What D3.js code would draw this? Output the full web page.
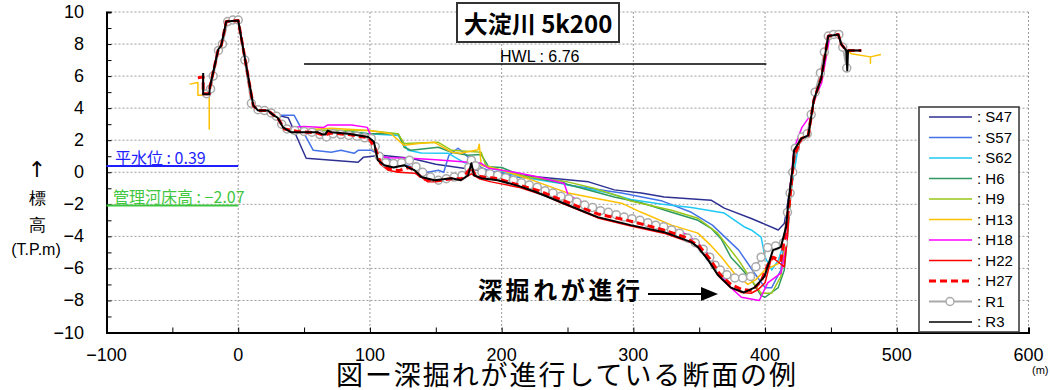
<!DOCTYPE html>
<html>
<head>
<meta charset="utf-8">
<script src="https://cdn.jsdelivr.net/npm/d3@7"></script>
<style>
  body { margin: 0; background: #fff; }
  svg { display: block; }
  text { font-family: "Liberation Sans Narrow", "Liberation Sans", Arial, sans-serif; }
  .jp { font-family: "Noto Sans CJK JP", "Noto Sans", sans-serif; }
</style>
</head>
<body>
<div id="chart"></div>
<script>
// axis ticks
const xTicks = [-100, 0, 100, 200, 300, 400, 500, 600];
const yTicks = [-10, -8, -6, -4, -2, 0, 2, 4, 6, 8, 10];

// reference levels
const hwl = 6.76, hwlFrom = 50, hwlTo = 401;
const lwl = 0.39, bedLevel = -2.07;

// shared bank geometry (distance m, elevation T.P.m)
const leftBank = [[-26.6,4.9],[-22,4.9],[-21.5,5.3],[-15.2,7.66],[-12.9,7.9],[-9.1,9.4],[0,9.47],[11.4,4.17],[15,3.86],[22.5,3.86],[27,3.55]];
const rightBank = [[427.5,2.1],[432.8,2.3],[437,4.5],[442.7,5.9],[448,8.5],[455.6,8.6],[457.8,8.0],[461.6,7.6]];
const redLeft = [[-30.6,5.9],[-26.6,5.95],[-26.6,4.9]];
const redRight = [[463,7.6],[473,7.6]];
const goldLeft = [[-37,5.5],[-30.6,5.6],[-30.6,4.8],[-22,4.8],[-22,2.7],[-22,5.0]];
const goldRight = [[465.5,7.4],[480,7.2],[480,6.8],[480,7.2],[488,7.35]];

// channel sections per survey
const s47 = [[30,3.55],[38,3.4],[51.6,0.87],[91,0.62],[95,0.93],[108.6,1.06],[131,0.87],[150,0.5],[175,0.2],[202,-0.06],[228,-0.3],[266,-0.6],[285.5,-1.1],[306,-1.3],[323.5,-1.55],[359,-1.74],[369,-2.24],[390,-2.9],[410,-3.6],[414.6,-3.2],[418,-1.5],[422,0.9]];
const s57 = [[35,3.55],[42.5,3.55],[57,1.37],[70.6,1.25],[78,1.37],[88,1.18],[91,1.37],[101,1.37],[108.6,1.06],[116,0.75],[144,0],[152,0.12],[156,0],[160,1.06],[167,1.5],[171.6,1.18],[177,0.75],[184.5,0.3],[190,0.12],[210,-0.3],[245,-0.5],[250,-0.8],[291,-1.3],[322,-1.8],[344,-2.5],[360,-3.3],[380,-4.86],[392,-6.3],[400,-7.2],[405,-7.2],[412,-6.1],[415,-4.0],[418,-1.5],[422,1.0]];
const s62 = [[30,3.4],[35,2.8],[45,2.65],[60,2.6],[76,2.6],[98.7,2.4],[121.5,2.3],[129,1.37],[139,1.2],[159.5,1.18],[171.6,0.6],[182,0.56],[190,0.3],[215,-0.3],[245,-0.7],[281,-1.3],[298,-1.7],[322,-2.0],[344,-2.2],[369,-2.55],[384,-3.4],[389.5,-3.6],[397,-4.05],[400,-5.3],[405,-6.1],[410,-5.5],[414,-4.5],[418,-2.0],[422,0],[426,2.0]];
const h6 = [[30,3.4],[35,2.8],[45,2.65],[60,2.6],[76,2.6],[98.7,2.4],[121.5,2.4],[126,1.56],[131,1.37],[152,1.56],[162,1.25],[174.6,1.06],[184.5,1.1],[190,0.35],[200,0.3],[215,-0.2],[247.5,-0.7],[270,-1.2],[285.5,-1.55],[306,-1.9],[329,-2.5],[349,-3.0],[359,-3.5],[367,-4.2],[374,-5.3],[382,-6.0],[391,-6.9],[397,-7.7],[400,-7.8],[410,-7.2],[414.6,-6.1],[417,-4.0],[420,-1.0],[423,1.3]];
const h9 = [[30,3.4],[35,2.8],[45,2.65],[60,2.6],[73,2.6],[98.7,2.6],[121.5,2.4],[126,1.8],[152,1.87],[162,1.37],[184.5,1.25],[188,0.4],[200,0.12],[220,-0.3],[250,-0.6],[270,-1.0],[291,-1.55],[298,-1.8],[329,-2.37],[349,-2.87],[364,-3.8],[380,-5.5],[389.5,-6.7],[397,-7.55],[405,-7.55],[412,-6.5],[416,-4.0],[419,-1.0],[422,1.2]];
const h13 = [[30,3.4],[35,2.8],[45,2.65],[60,2.7],[70.6,2.74],[100,2.6],[116,2.4],[126,1.68],[137,1.8],[149,1.87],[162,1.25],[169,1.18],[182,1.4],[183,1.75],[184.5,0.44],[200,0.12],[220,-0.4],[250.5,-1.3],[270,-1.6],[291,-1.93],[306,-2.5],[329,-3.3],[349,-3.8],[358,-4.5],[367,-5.3],[376.6,-6.3],[387,-7.0],[393,-6.7],[400,-6.1],[410,-5.7],[415,-5.0],[418,-2.5],[422,1.0]];
const h18 = [[30,3.4],[35,2.9],[40,2.8],[50,2.85],[65,2.8],[68,2.95],[86,2.95],[98,2.8],[103,1.8],[107,1.0],[115,0.9],[131,0.87],[150,0.78],[170,0.65],[184.5,0.56],[190,0.25],[210,0],[228,-0.3],[247.5,-0.7],[250.5,-1.43],[260,-1.8],[275,-2.3],[298,-2.8],[323,-3.3],[341,-3.9],[350,-4.5],[358,-5.2],[365,-6.2],[374,-7.2],[382,-7.8],[395.6,-8.0],[402,-6.9],[412,-6.3],[416,-4.67],[419,-1.0],[422,1.5],[428,2.8],[434,3.5],[438,4.6],[443,5.6],[446,7.0],[449,8.4],[452,8.6]];
const h22 = [[30,3.4],[35,2.7],[45,2.5],[60,2.45],[65,2.3],[70,2.45],[84,2.3],[99,2.1],[104,1.3],[108,0.5],[114,0.12],[121.5,0],[134,-0.06],[139,-0.3],[144,-0.6],[150,-0.6],[162,-0.4],[170,-0.45],[177,-0.1],[183,-0.4],[192,-0.6],[212.6,-0.93],[232,-1.43],[245,-1.9],[260,-2.4],[273,-2.85],[298,-3.35],[323,-3.8],[344,-4.4],[350,-4.75],[358,-5.6],[365,-6.5],[374,-7.2],[382,-7.5],[389.5,-7.55],[395,-7.3],[400,-6.9],[405,-5.3],[410,-5.6],[414.6,-5.9],[417,-4.0],[419,-1.5],[422,0.9]];
const h27 = [[30,3.4],[35,2.7],[45,2.55],[60,2.45],[65,2.3],[70,2.45],[84,2.35],[99,2.15],[104,1.5],[108,0.6],[115,0.2],[122,0.1],[130,0.3],[135,0],[140,-0.4],[150,-0.55],[162,-0.4],[170,-0.4],[177,0.3],[180,-0.2],[186,-0.3],[197,-0.4],[213,-0.8],[228,-1.15],[240,-1.55],[260,-2.2],[273,-2.6],[298,-3.05],[323,-3.6],[339,-4.05],[350,-4.6],[358,-5.4],[366,-6.4],[374,-7.0],[382,-7.3],[390,-7.4],[397,-6.8],[402,-5.8],[406,-5.3],[412,-5.5],[416,-3.5],[419,-1.5],[422,1.0]];
const r1 = [[-24,4.9],[-21,5.2],[-19,6.0],[-15,7.6],[-12,8.0],[-8,9.4],[-4,9.5],[0,9.5],[5,7.0],[10,4.3],[15,3.9],[20,3.85],[25,3.7],[29,3.5],[33,3.0],[37,2.7],[43,2.6],[50,2.55],[56,2.5],[62,2.35],[67,2.2],[72,2.4],[78,2.35],[84,2.3],[90,2.25],[96,2.15],[101,2.1],[104,1.6],[107,1.0],[112,0.6],[118,0.55],[124,0.6],[130,0.75],[135,0.35],[140,0],[146,-0.3],[152,-0.5],[158,-0.4],[164,-0.3],[170,-0.2],[175,0.3],[177,0.75],[180,0.4],[185,0],[191,-0.1],[197,-0.19],[203,-0.35],[209,-0.5],[215,-0.65],[221,-0.8],[227,-0.93],[233,-1.15],[239,-1.3],[245,-1.5],[251,-1.65],[257,-1.85],[263,-2.05],[269,-2.2],[275,-2.4],[281,-2.5],[287,-2.65],[293,-2.8],[299,-2.9],[305,-3.0],[311,-3.15],[317,-3.3],[323,-3.4],[329,-3.6],[335,-3.8],[341,-4.1],[347,-4.4],[353,-4.8],[358,-5.3],[362,-5.8],[366,-6.1],[371,-6.4],[377,-6.6],[383,-6.6],[389,-6.5],[393,-5.9],[397,-5.3],[402,-4.7],[408,-4.6],[414,-4.4],[417,-2.5],[419,-1.3],[421,0],[423,1.5],[428,2.2],[432,2.4],[435,3.6],[438,5.0],[442,6.2],[445,7.5],[448,8.5],[452,8.6],[456,8.6],[459,7.8],[462,6.5]];
const r3 = [[-26.6,6.2],[-26.6,4.86],[-22,4.86],[-21.5,5.3],[-15.2,7.66],[-12.9,7.9],[-9.1,9.4],[0,9.47],[11.4,4.17],[15,3.86],[22.5,3.86],[27,3.55],[30,3.4],[34,2.8],[40,2.5],[60,2.5],[64.5,2.35],[66,2.35],[68,2.6],[70.6,2.5],[83.5,2.4],[98.7,2.2],[103,1.9],[106,0.75],[111,0.44],[118,0.3],[126,0.44],[129,0.3],[134,0.12],[139,-0.3],[149,-0.5],[162,-0.37],[169,-0.5],[174.6,-0.19],[177,0.56],[179,-0.19],[184.5,-0.37],[197,-0.5],[212.6,-0.85],[225,-1.2],[240,-1.7],[260,-2.37],[273,-2.8],[298,-3.3],[323.5,-3.74],[344,-4.36],[349,-4.67],[357,-5.5],[364,-6.4],[374,-7.2],[384,-7.5],[392,-7.2],[399.6,-6.5],[406,-4.86],[412,-4.67],[416,-3.4],[417.6,-1.93],[421,0.3],[422,1.37],[427.5,2.1],[432.8,2.3],[437,4.5],[442.7,5.9],[448,8.5],[455.6,8.6],[457.8,8.0],[461.6,7.6],[462.4,6.36],[463,7.6],[473,7.6]];

const seriesNames = ["S47","S57","S62","H6","H9","H13","H18","H22","H27","R1","R3"];
const seriesColors = ["#2e3192","#4472e8","#1fc8f5","#2e9960","#99c61a","#ffc000","#ff00ff","#ff0000","#ff0000","#aaaaaa","#000000"];

const series = [
  { name: "S47", pts: [...leftBank, ...s47, ...rightBank] },
  { name: "S57", pts: [...leftBank, ...s57, ...rightBank] },
  { name: "S62", pts: [...leftBank, ...s62, ...rightBank] },
  { name: "H6",  pts: [...leftBank, ...h6,  ...rightBank] },
  { name: "H9",  pts: [...leftBank, ...h9,  ...rightBank] },
  { name: "H13", pts: [...goldLeft, ...leftBank.slice(2), ...h13, ...rightBank, ...goldRight] },
  { name: "H18", pts: [...leftBank, ...h18, ...rightBank.slice(4)] },
  { name: "H22", pts: [...redLeft, ...leftBank.slice(1), ...h22, ...rightBank, ...redRight] },
  { name: "R1",  pts: r1 },
  { name: "H27", pts: [...redLeft, ...leftBank.slice(1), ...h27, ...rightBank, ...redRight] },
  { name: "R3",  pts: r3 }
];

const W = 1050, H = 390;
const svg = d3.select("#chart").append("svg").attr("width", W).attr("height", H);

const x = d3.scaleLinear().domain([-100, 600]).range([106.5, 1028.5]);
const y = d3.scaleLinear().domain([-10, 10]).range([332.5, 12]);
const color = d3.scaleOrdinal(seriesNames, seriesColors);

// grid
const grid = svg.append("g").attr("stroke", "#9a9a9a").attr("stroke-dasharray", "2,2").attr("stroke-width", 1);
xTicks.slice(1).forEach(t => grid.append("line")
  .attr("x1", x(t)).attr("x2", x(t)).attr("y1", y(10)).attr("y2", y(-10)));
yTicks.slice(1).forEach(t => grid.append("line")
  .attr("x1", x(-100)).attr("x2", x(600)).attr("y1", y(t)).attr("y2", y(t)));

// axes
const xAxis = svg.append("g").attr("transform", `translate(0,${y(-10)})`)
  .call(d3.axisBottom(x).tickValues(d3.range(-100, 601, 50)).tickSize(-5).tickFormat(""));
xAxis.select(".domain").attr("stroke-width", 2);
svg.append("g").selectAll("text").data(xTicks).join("text")
  .attr("x", d => x(d)).attr("y", 361).attr("text-anchor", "middle")
  .attr("font-size", 18).text(d => d3.format("d")(d).replace("-", "\u2212"));

const yAxis = svg.append("g").attr("transform", `translate(${x(-100)},0)`)
  .call(d3.axisLeft(y).tickValues(d3.range(-10, 11, 1)).tickSize(-5).tickFormat(""));
yAxis.select(".domain").attr("stroke-width", 2);
svg.append("g").selectAll("text").data(yTicks).join("text")
  .attr("x", 84).attr("y", d => y(d) + 6).attr("text-anchor", "end")
  .attr("font-size", 18).text(d => String(d).replace("-", "\u2212"));

// reference level lines
svg.append("line").attr("x1", x(hwlFrom)).attr("x2", x(hwlTo)).attr("y1", y(hwl)).attr("y2", y(hwl))
  .attr("stroke", "#000").attr("stroke-width", 1.5);
svg.append("text").attr("x", 500).attr("y", y(hwl) - 2).attr("font-size", 16).text("HWL : " + hwl);

svg.append("line").attr("x1", x(-100)).attr("x2", x(0)).attr("y1", y(lwl)).attr("y2", y(lwl))
  .attr("stroke", "#1f1fff").attr("stroke-width", 2);
svg.append("text").attr("class", "jp").attr("x", 115).attr("y", y(lwl) - 2).attr("font-size", 16)
  .attr("fill", "#1f1fff").text("平水位 : " + lwl);

svg.append("line").attr("x1", x(-100)).attr("x2", x(0)).attr("y1", y(bedLevel)).attr("y2", y(bedLevel))
  .attr("stroke", "#3fc73f").attr("stroke-width", 2);
svg.append("text").attr("class", "jp").attr("x", 113).attr("y", y(bedLevel) - 2).attr("font-size", 16)
  .attr("fill", "#3fc73f").text("管理河床高 : " + String(bedLevel).replace("-", "\u2212"));

// cross sections
const line = d3.line().x(d => x(d[0])).y(d => y(d[1]));
const plot = svg.append("g").attr("fill", "none").attr("stroke-linejoin", "round");
series.forEach(s => {
  const p = plot.append("path").attr("d", line(s.pts)).attr("stroke", color(s.name));
  if (s.name === "H27") p.attr("stroke-width", 3).attr("stroke-dasharray", "7,4");
  else if (s.name === "R3") p.attr("stroke-width", 2);
  else if (s.name === "R1") {
    p.attr("stroke-width", 2);
    plot.append("g").selectAll("circle").data(s.pts).join("circle")
      .attr("cx", d => x(d[0])).attr("cy", d => y(d[1])).attr("r", 4)
      .attr("fill", "#fff").attr("stroke", color("R1")).attr("stroke-width", 1.5);
  }
  else p.attr("stroke-width", 1.5);
});

// title box
svg.append("rect").attr("x", 457).attr("y", 3).attr("width", 162).attr("height", 39)
  .attr("fill", "#fff").attr("stroke", "#333").attr("stroke-width", 2);
svg.append("text").attr("class", "jp").attr("x", 538).attr("y", 33).attr("text-anchor", "middle")
  .attr("font-size", 24).attr("font-weight", "bold").text("大淀川 5k200");

// annotation
svg.append("text").attr("class", "jp").attr("x", 478).attr("y", 299).attr("font-size", 24)
  .attr("font-weight", "bold").attr("textLength", 162).text("深掘れが進行");
svg.append("line").attr("x1", 648).attr("x2", 703).attr("y1", 294).attr("y2", 294)
  .attr("stroke", "#000").attr("stroke-width", 2);
svg.append("path").attr("d", "M701,287 L718,294 L701,301 Z").attr("fill", "#000");

// y axis title
const yt = svg.append("g").attr("class", "jp").attr("text-anchor", "middle").attr("font-size", 17);
yt.append("text").attr("x", 37).attr("y", 177).attr("font-size", 22)
  .style("font-family", "DejaVu Sans, sans-serif").text("↑");
yt.append("text").attr("x", 37).attr("y", 204).text("標");
yt.append("text").attr("x", 37).attr("y", 231).text("高");
yt.append("text").attr("x", 36).attr("y", 255).attr("font-size", 16).style("font-family", "Liberation Sans, sans-serif").text("(T.P.m)");

// unit and caption
svg.append("text").attr("x", 1032).attr("y", 374).attr("font-size", 11).text("(m)");
svg.append("text").attr("class", "jp").attr("x", 336).attr("y", 385).attr("font-size", 27)
  .attr("textLength", 460).text("図ー深掘れが進行している断面の例");

// legend
const lg = svg.append("g");
lg.append("rect").attr("x", 919).attr("y", 107).attr("width", 100).attr("height", 225)
  .attr("fill", "#fff").attr("stroke", "#333").attr("stroke-width", 1.5);
seriesNames.forEach((n, i) => {
  const ly = 117 + i * 20.5;
  const l = lg.append("line").attr("x1", 929).attr("x2", 972).attr("y1", ly).attr("y2", ly)
    .attr("stroke", color(n)).attr("stroke-width", n === "H27" ? 3 : (n === "R1" ? 2 : 1.5));
  if (n === "H27") l.attr("stroke-dasharray", "7,4");
  if (n === "R1") lg.append("circle").attr("cx", 950).attr("cy", ly).attr("r", 4)
    .attr("fill", "#fff").attr("stroke", color(n)).attr("stroke-width", 1.5);
  lg.append("text").attr("x", 977).attr("y", ly + 5).attr("font-size", 15).text(": " + n);
});
</script>
</body>
</html>
